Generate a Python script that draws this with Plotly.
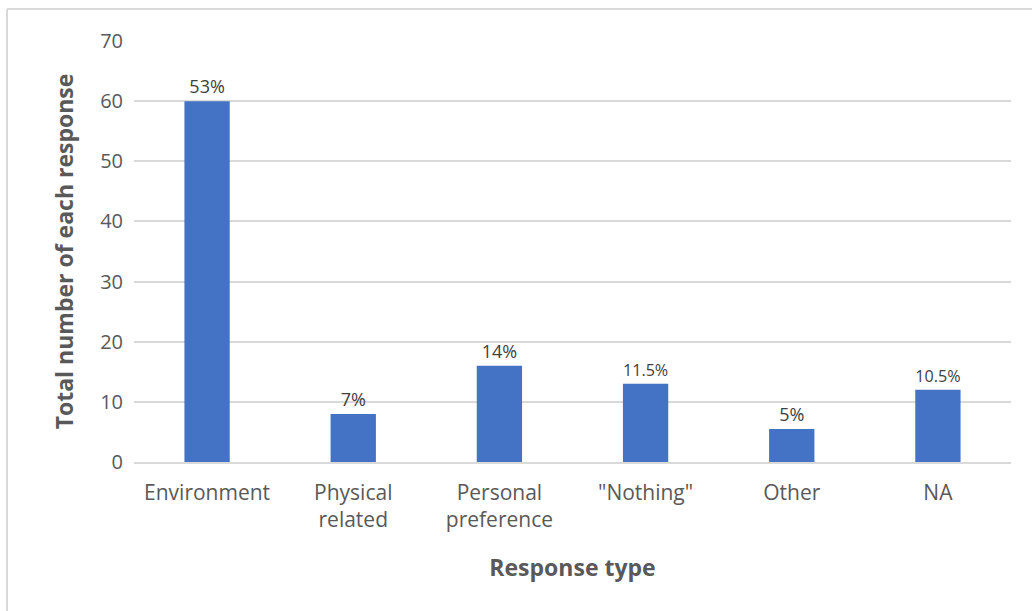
import plotly.graph_objects as go

categories = ["Environment", "Physical<br>related", "Personal<br>preference", "\"Nothing\"", "Other", "NA"]
counts = [60, 8, 16, 13, 5.5, 12]
pct_labels = ["53%", "7%", "14%", "11.5%", "5%", "10.5%"]
y_ticks = [0, 10, 20, 30, 40, 50, 60, 70]

FONT = "Open Sans, Liberation Sans, Arial, sans-serif"
GRID = "#D9D9D9"
TXT = "#595959"

fig = go.Figure(
    go.Bar(
        x=categories,
        y=counts,
        text=pct_labels,
        textposition="outside",
        textfont=dict(family=FONT, size=18, color="#404040"),
        marker=dict(color="#4472C4", line=dict(width=0)),
        cliponaxis=False,
        hoverinfo="x+y",
    )
)

L, R, T, B = 134, 21, 41, 149
W, H = 1032, 611
pw, ph = W - L - R, H - T - B

def px(x):
    return (x - L) / pw

def py(y):
    return (H - B - y) / ph

fig.update_layout(
    width=W,
    height=H,
    margin=dict(l=L, r=R, t=T, b=B),
    paper_bgcolor="white",
    plot_bgcolor="white",
    bargap=0.69,
    showlegend=False,
    font=dict(family=FONT, color=TXT),
    xaxis=dict(
        showgrid=False,
        showline=True,
        linecolor=GRID,
        linewidth=1.5,
        ticks="",
        ticklabelstandoff=11,
        tickfont=dict(size=21, color=TXT),
        title=dict(text="<b>Response type</b>", font=dict(size=23, color=TXT), standoff=28),
    ),
    yaxis=dict(
        range=[0, 70],
        tickvals=y_ticks,
        showgrid=True,
        gridcolor=GRID,
        gridwidth=1.5,
        zeroline=False,
        showline=False,
        ticks="",
        ticklabelstandoff=10,
        tickfont=dict(size=20, color=TXT),
        title=dict(text="<b>Total number of each response</b>", font=dict(size=23, color=TXT), standoff=20),
    ),
    shapes=[
        dict(type="line", xref="paper", yref="paper", x0=px(7), x1=px(7), y0=py(9), y1=py(W),
             line=dict(color="#D9D9D9", width=2)),
        dict(type="line", xref="paper", yref="paper", x0=px(7), x1=px(W + 10), y0=py(9), y1=py(9),
             line=dict(color="#D9D9D9", width=2)),
    ],
)

fig.write_html("out.html")
